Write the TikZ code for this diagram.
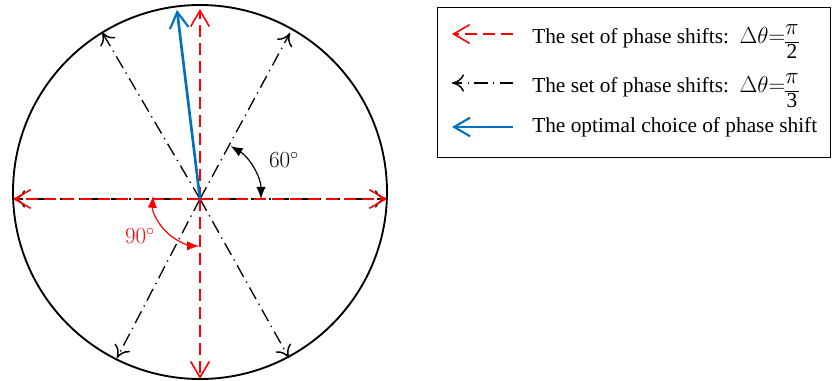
\documentclass[tikz,border=0pt]{standalone}
\usepackage{amsmath}
\usepackage{fontspec}
\newfontfamily\legfont{Liberation Serif}
\usetikzlibrary{arrows.meta,calc}
\definecolor{myred}{RGB}{255,0,0}
\definecolor{myblue}{RGB}{0,112,192}
\newcommand{\myfrac}[2]{\vcenter{\offinterlineskip\halign{\hfil##\hfil\cr\strut$#1$\cr\noalign{\kern0.5pt\hrule height0.5pt\kern1.5pt}\hbox{#2}\cr}}}
\tikzset{
  redset/.style={draw=myred, line width=1.2pt, dash pattern=on 9pt off 4.5pt, -{Straight Barb[length=12pt,width=14pt,line width=1.2pt]}},
  blackset/.style={draw=black, line width=1.0pt, dash pattern=on 10pt off 4pt on 1pt off 4pt, -{Computer Modern Rightarrow[length=9pt,width=13pt,line width=1.1pt]}},
  bluearrow/.style={draw=myblue, line width=2pt, -{Straight Barb[length=12pt,width=14pt,line width=1.6pt]}},
  legtext/.style={anchor=base west, inner sep=0pt, font=\legfont\fontsize{16}{18}\selectfont},
  anglabel/.style={inner sep=0pt, font=\fontsize{17}{20}\selectfont},
  angarrow/.style={line width=0.9pt, {Latex[length=9pt,width=7pt]}-{Latex[length=9pt,width=7pt]}},
}
\begin{document}
\begin{tikzpicture}[x=0.75pt,y=-0.75pt]
\useasboundingbox (0,0) rectangle (832,381);
% circle
\draw[line width=1.4pt] (200,192) circle[radius=187];
% centre and end points
\coordinate (C) at (200,199);
\coordinate (U) at (200,9);
\coordinate (D) at (200,379);
\coordinate (L) at (13,199);
\coordinate (R) at (387,199);
\coordinate (UR) at (290,33);
\coordinate (UL) at (102,32);
\coordinate (DL) at (117,358);
\coordinate (DR) at (289,358);
\coordinate (B) at (177,10);
% pi/3 set
\foreach \e in {R,UR,UL,L,DL,DR} \draw[blackset] (C) -- (\e);
% pi/2 set
\foreach \e in {U,D,L,R} \draw[redset] (C) -- (\e);
% optimal
\draw[bluearrow] (C) -- (B);
% 60 degree arc
\draw[angarrow] ($(C)+(-60:61)$) arc[start angle=-60, end angle=0, radius=61];
\node[anglabel] (a60) at (284,160) {$60^\circ$};
% 90 degree arc
\draw[angarrow, myred] ($(C)+(184:47)$) arc[start angle=184, end angle=91, radius=47];
\node[anglabel, text=myred] (a90) at (140,236) {$90^\circ$};
% legend
\node[draw, line width=0.8pt, minimum width=393*0.75pt, minimum height=150*0.75pt, anchor=north west, inner sep=0pt] (leg) at (437,7) {};
\coordinate (l1a) at (513,34); \coordinate (l1b) at (452,34);
\coordinate (l2a) at (513,83); \coordinate (l2b) at (452,83);
\coordinate (l3a) at (513,127); \coordinate (l3b) at (452,127);
\draw[redset] (l1a) -- (l1b);
\draw[blackset] (l2a) -- (l2b);
\draw[bluearrow] (l3a) -- (l3b);
\node[legtext] (t1) at (532,44) {The set of phase shifts:~~$\Delta\theta{=}\myfrac{\pi}{2}$};
\node[legtext] (t2) at (532,93) {The set of phase shifts:~~$\Delta\theta{=}\myfrac{\pi}{3}$};
\node[legtext] (t3) at (532,133) {The optimal choice of phase shift};
\end{tikzpicture}
\end{document}
